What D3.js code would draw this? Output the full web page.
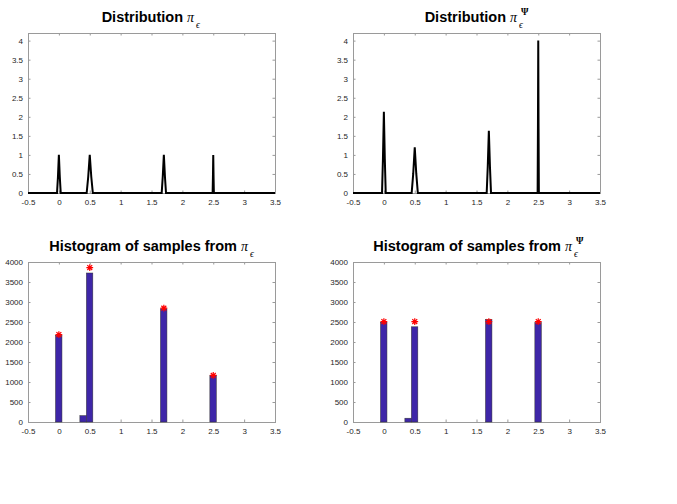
<!DOCTYPE html>
<html>
<head>
<meta charset="utf-8">
<style>
  body { margin: 0; background: #fff; }
  svg { display: block; }
  text { font-family: "Liberation Sans", Arial, sans-serif; }
</style>
</head>
<body>
<svg width="677" height="504"></svg>
<script src="https://cdn.jsdelivr.net/npm/d3@7"></script>
<script>

// ticks
var xTicks = [-0.5, 0, 0.5, 1, 1.5, 2, 2.5, 3, 3.5];
var densTicks = [0, 0.5, 1, 1.5, 2, 2.5, 3, 3.5, 4];
var countTicks = [0, 500, 1000, 1500, 2000, 2500, 3000, 3500, 4000];

// density curves (x positions and heights)
var peakX = [-0.5, -0.03, -0.015, 0, 0.015, 0.03,
             0.45, 0.475, 0.5, 0.525, 0.55,
             1.665, 1.682, 1.7, 1.718, 1.735,
             2.49, 2.495, 2.5, 2.505, 2.51, 3.5];
var densLeft  = [0, 0, 0.42, 1, 0.42, 0,
                 0, 0.42, 1, 0.42, 0,
                 0, 0.42, 1, 0.42, 0,
                 0, 0.42, 1, 0.42, 0, 0];
var densRight = [0, 0, 0.9, 2.13, 0.9, 0,
                 0, 0.5, 1.2, 0.5, 0,
                 0, 0.68, 1.63, 0.68, 0,
                 0, 1.7, 4.0, 1.7, 0, 0];

// histogram bins and counts
var binLo = [-0.055, 0.34, 0.445, 1.645, 2.445];
var binHi = [0.05, 0.445, 0.55, 1.75, 2.55];
var countsLeft  = [2165, 160, 3725, 2830, 1160];
var countsRight = [2495, 95, 2380, 2560, 2485];

// expected counts (red stars)
var starX = [0, 0.5, 1.7, 2.5];
var starLeft  = [2185, 3860, 2845, 1165];
var starRight = [2510, 2510, 2510, 2510];

var svg = d3.select("svg");
var frameColor = "#9a9a9a", labelColor = "#262626";

// matlab style labels: plain hyphen for negatives
var fmtTick = function(d) { return String(d); };

function panel(left, top, yDomain, yTicks) {
  var w = 247, h = 160;
  var x = d3.scaleLinear().domain([-0.5, 3.5]).range([0, w]);
  var y = d3.scaleLinear().domain(yDomain).range([h, 0]);
  var g = svg.append("g").attr("transform", "translate(" + left + "," + top + ")");

  var ax = [
    [d3.axisBottom(x).tickValues(xTicks).tickFormat(fmtTick), "translate(0," + h + ")", 6],
    [d3.axisTop(x).tickValues(xTicks).tickFormat(""), "translate(0,0)", 0],
    [d3.axisLeft(y).tickValues(yTicks).tickFormat(fmtTick), "translate(0,0)", 5],
    [d3.axisRight(y).tickValues(yTicks).tickFormat(""), "translate(" + w + ",0)", 0]
  ];
  ax.forEach(function(a) {
    var s = g.append("g").attr("transform", a[1])
        .call(a[0].tickSizeInner(-2.5).tickSizeOuter(0).tickPadding(a[2]));
    s.select(".domain").remove();
    s.selectAll("line").attr("stroke", frameColor);
    s.selectAll("text").attr("fill", labelColor)
        .style("font-size", "8px");
  });

  g.append("rect").attr("x", 0.5).attr("y", 0.5)
      .attr("width", w).attr("height", h)
      .attr("fill", "none").attr("stroke", frameColor).attr("stroke-width", 1);

  return {g: g, x: x, y: y};
}

function title(cx, baseline, main, sup) {
  var t = svg.append("g");
  t.append("text").attr("x", cx).attr("y", baseline)
      .attr("text-anchor", "end")
      .style("font-size", "14.5px").style("font-weight", "bold")
      .text(main);
  t.append("text").attr("x", cx + 4).attr("y", baseline)
      .style("font-family", "'Liberation Serif', 'DejaVu Serif', serif")
      .style("font-style", "italic").style("font-size", "14px")
      .text("π");
  t.append("text").attr("x", cx + 13).attr("y", baseline + 6)
      .style("font-family", "'Liberation Serif', 'DejaVu Serif', serif")
      .style("font-style", "italic").style("font-size", "9.5px")
      .text("ϵ");
  if (sup) {
    t.append("text").attr("x", cx + 15).attr("y", baseline - 7)
        .style("font-family", "'Liberation Serif', 'DejaVu Serif', serif")
        .style("font-size", "9.5px").style("font-weight", "bold")
        .text("Ψ");
  }
}

function density(p, ys) {
  var line = d3.line()
      .x(function(d, i) { return p.x(peakX[i]); })
      .y(function(d) { return p.y(d); });
  p.g.append("path").datum(ys)
      .attr("fill", "none").attr("stroke", "#000")
      .attr("stroke-width", 2).attr("stroke-linejoin", "miter")
      .attr("d", line);
}

function histogram(p, counts, stars) {
  p.g.selectAll(".bar").data(counts).enter().append("rect")
      .attr("x", function(d, i) { return p.x(binLo[i]); })
      .attr("width", function(d, i) { return p.x(binHi[i]) - p.x(binLo[i]); })
      .attr("y", function(d) { return p.y(d); })
      .attr("height", function(d) { return p.y(0) - p.y(d); })
      .attr("fill", "#3e26a8").attr("stroke", "#333").attr("stroke-width", 0.5);

  var r = 3.4, q = r * 0.72;
  p.g.selectAll(".star").data(stars).enter().append("path")
      .attr("transform", function(d, i) { return "translate(" + p.x(starX[i]) + "," + p.y(d) + ")"; })
      .attr("d", "M" + -r + ",0H" + r + "M0," + -r + "V" + r +
                 "M" + -q + "," + -q + "L" + q + "," + q + "M" + -q + "," + q + "L" + q + "," + -q)
      .attr("stroke", "#ff0000").attr("stroke-width", 1.2).attr("fill", "none");
}

var p1 = panel(28, 33, [0, 4.2], densTicks);
density(p1, densLeft);
var p2 = panel(353, 33, [0, 4.2], densTicks);
density(p2, densRight);
var p3 = panel(28, 262, [0, 4000], countTicks);
histogram(p3, countsLeft, starLeft);
var p4 = panel(353, 262, [0, 4000], countTicks);
histogram(p4, countsRight, starRight);

title(183, 22, "Distribution", false);
title(506, 22, "Distribution", true);
title(237, 251, "Histogram of samples from", false);
title(561, 251, "Histogram of samples from", true);

</script>
</body>
</html>
